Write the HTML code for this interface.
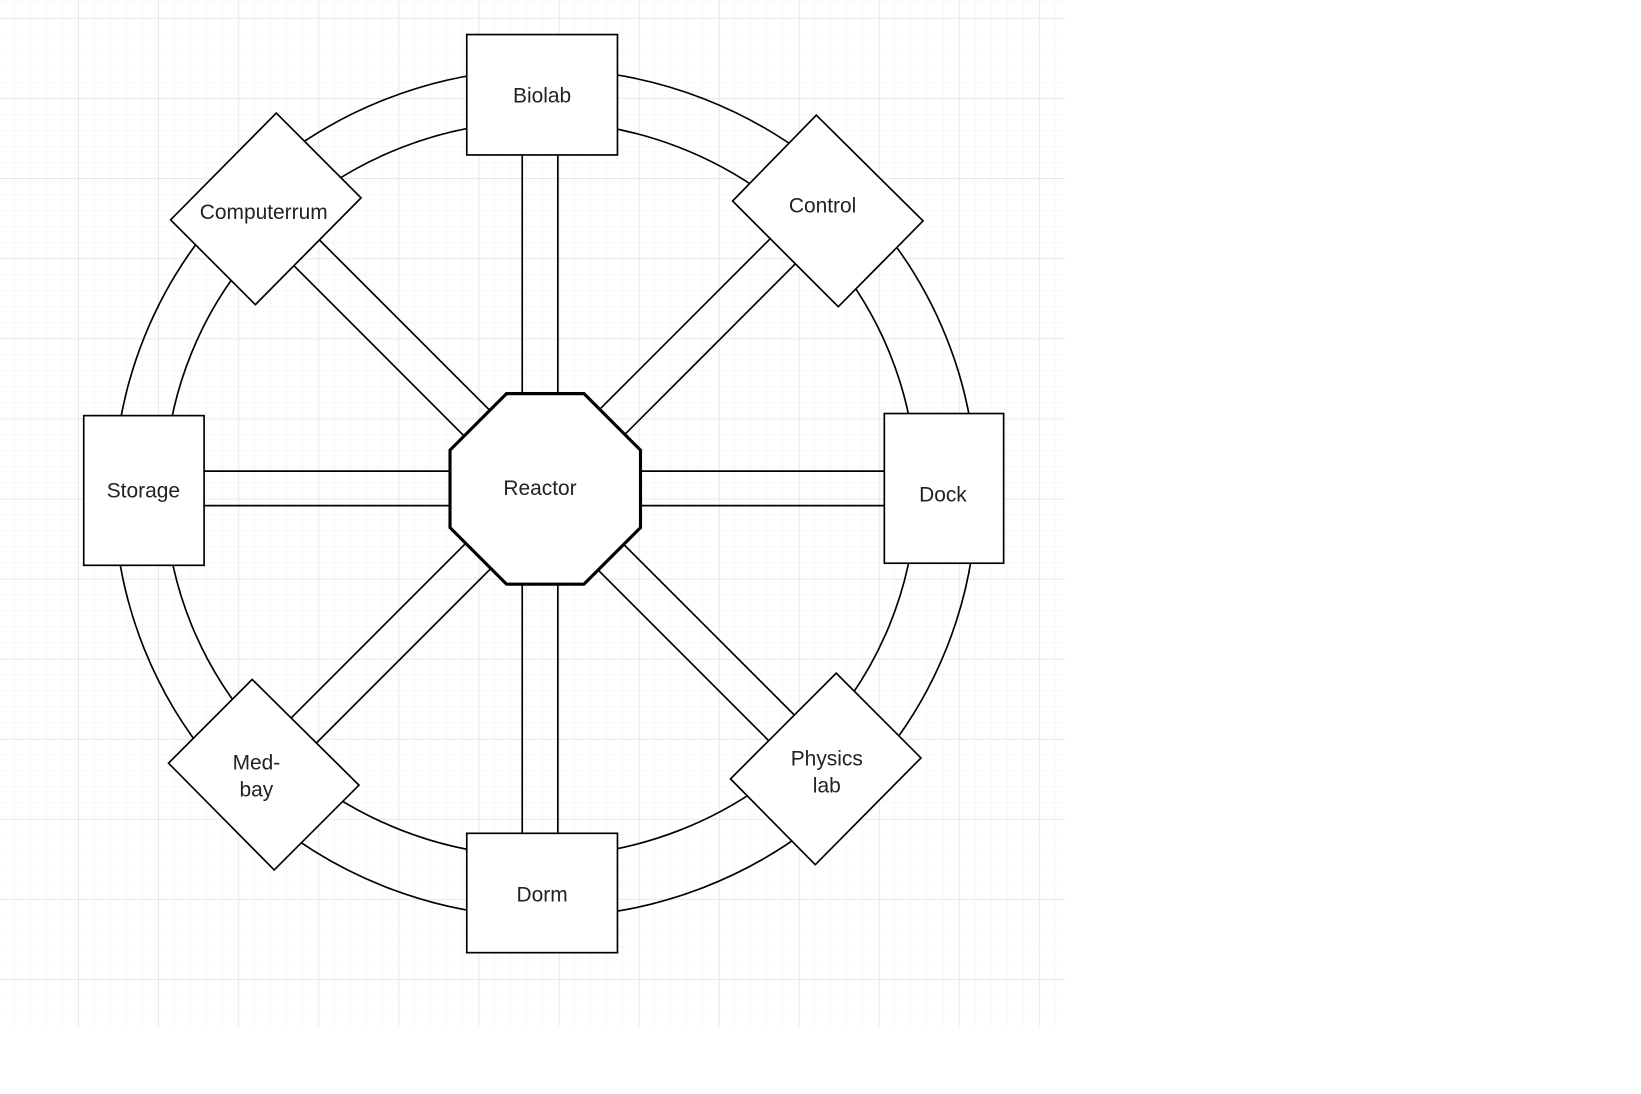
<!DOCTYPE html>
<html><head><meta charset="utf-8"><style>html,body{margin:0;padding:0;background:#fff;}svg{display:block}</style></head>
<body>
<svg width="1641" height="1094" viewBox="0 0 1568 1045" preserveAspectRatio="none" xmlns="http://www.w3.org/2000/svg" font-family="Liberation Sans, sans-serif">
<defs>
<pattern id="minor" width="15.3" height="15.3" patternUnits="userSpaceOnUse" x="-1.5" y="2.2">
<path d="M15.3 0V15.3M0 15.3H15.3" fill="none" stroke="#f0f0f0" stroke-width="1"/>
</pattern>
<pattern id="major" width="76.5" height="76.5" patternUnits="userSpaceOnUse" x="-1.5" y="17.5">
<path d="M0 0V76.5M0 0H76.5" fill="none" stroke="#dedede" stroke-width="1"/>
</pattern>
</defs>
<rect x="0" y="0" width="1018" height="980" fill="url(#minor)"/>
<rect x="0" y="0" width="1018" height="980" fill="url(#major)"/>
<g fill="none" stroke="#000" stroke-width="1.6">
<ellipse cx="521" cy="471" rx="412" ry="405"/>
<ellipse cx="516.5" cy="467" rx="359" ry="351"/>
<line x1="499" y1="100" x2="499" y2="840"/>
<line x1="533" y1="100" x2="533" y2="840"/>
<line x1="140" y1="450" x2="900" y2="450"/>
<line x1="140" y1="483" x2="900" y2="483"/>
<line x1="254" y1="178" x2="790" y2="714"/>
<line x1="254" y1="227" x2="790" y2="763"/>
<line x1="790" y1="174" x2="254" y2="710"/>
<line x1="790" y1="222" x2="254" y2="758"/>
</g>
<g fill="#fff" stroke="#000" stroke-width="1.6">
<rect x="446" y="33" width="144" height="115"/>
<rect x="446" y="796" width="144" height="114"/>
<rect x="80" y="397" width="115" height="143"/>
<rect x="845" y="395" width="114" height="143"/>
<polygon points="264,108 345,189 244,291 163,210"/>
<polygon points="780,110 882,211 801,293 700,192"/>
<polygon points="241,649 343,750 262,831 161,729"/>
<polygon points="799,643 880,724 779,826 698,744"/>
<polygon points="484,376 558,376 612,430 612,504 558,558 484,558 430,504 430,430" stroke-width="3"/>
</g>
<g font-size="20" fill="#222" text-anchor="middle">
<text x="518" y="98">Biolab</text>
<text x="518" y="861">Dorm</text>
<text x="137" y="475">Storage</text>
<text x="901" y="479">Dock</text>
<text x="516" y="473">Reactor</text>
<text x="252" y="209">Computerrum</text>
<text x="786" y="203">Control</text>
<text x="245" y="735">Med-</text>
<text x="245" y="761">bay</text>
<text x="790" y="731">Physics</text>
<text x="790" y="757">lab</text>
</g>
</svg>
</body></html>
